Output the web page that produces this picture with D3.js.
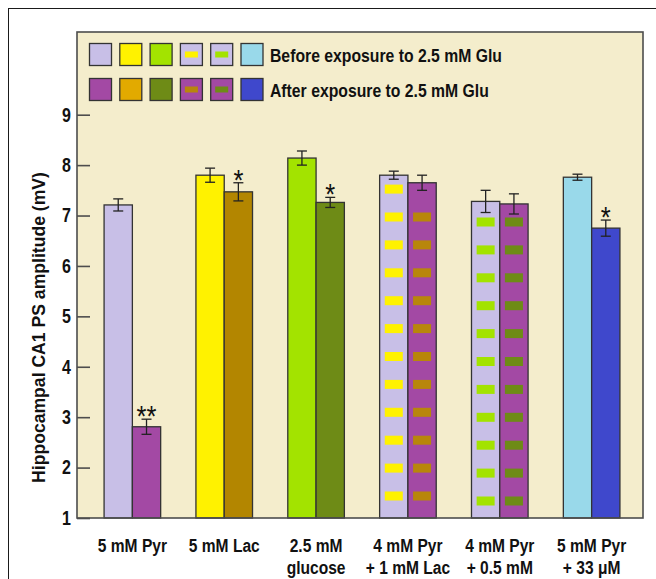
<!DOCTYPE html>
<html>
<head>
<meta charset="utf-8">
<script src="https://cdn.jsdelivr.net/npm/d3@7"></script>
<style>
  html, body { margin: 0; padding: 0; background: #ffffff; }
  svg { display: block; }
  text { font-family: "Liberation Sans", Arial, sans-serif; }
</style>
</head>
<body>
<svg id="chart" width="656" height="579"></svg>
<script>
// ---- data ----
const categories = [
  ["5 mM Pyr"],
  ["5 mM Lac"],
  ["2.5 mM", "glucose"],
  ["4 mM Pyr", "+ 1 mM Lac"],
  ["4 mM Pyr", "+ 0.5 mM"],
  ["5 mM Pyr", "+ 33 \u03BCM"]
];
const beforeValues = [7.21, 7.80, 8.14, 7.80, 7.28, 7.76];
const beforeErrors = [0.12, 0.14, 0.14, 0.08, 0.22, 0.06];
const afterValues  = [2.81, 7.47, 7.26, 7.65, 7.23, 6.75];
const afterErrors  = [0.15, 0.18, 0.10, 0.15, 0.20, 0.16];
const significance = ["**", "*", "*", "", "", "*"];
const yTicks = [1, 2, 3, 4, 5, 6, 7, 8, 9];

const beforeFill = ["#c8bfe7", "#fff200", "#a3e300", "#c8bfe7", "#c8bfe7", "#99d9ea"];
const afterFill  = ["#a349a4", "#b38600", "#6e8b16", "#a349a4", "#a349a4", "#3f48cc"];
const afterLegendFill = ["#a349a4", "#e2aa00", "#6e8b16", "#a349a4", "#a349a4", "#3f48cc"];
const beforeDash = [null, null, null, "#fff200", "#a3e300", null];
const afterDash  = [null, null, null, "#b8860b", "#6e8b16", null];
const legendLabels = ["Before exposure to 2.5 mM Glu", "After exposure to 2.5 mM Glu"];
const yTitle = "Hippocampal CA1 PS amplitude (mV)";

// ---- layout ----
const svg = d3.select("#chart");
const plot = { left: 77, right: 643, top: 32, bottom: 518 };

const x = d3.scaleBand()
  .domain(d3.range(categories.length))
  .range([plot.left, plot.right])
  .paddingInner(0.384)
  .paddingOuter(0.273)
  .align(0.54);
const xSub = d3.scaleBand().domain(["before", "after"]).range([0, x.bandwidth()]);
const y = d3.scaleLinear().domain([1, 9]).range([518, 114.7]);

// condensed horizontal text helper
function ctext(parent, tx, ty, str, size, sx, anchor, weight) {
  const g = parent.append("g").attr("transform", `translate(${tx},${ty}) scale(${sx},1)`);
  return g.append("text")
    .attr("text-anchor", anchor || "start")
    .attr("font-size", size)
    .attr("font-weight", weight || "bold")
    .attr("fill", "#111")
    .text(str);
}

// outer frame
svg.append("rect")
  .attr("x", 8.5).attr("y", 8.5).attr("width", 700).attr("height", 700)
  .attr("fill", "none").attr("stroke", "#1a1a1a").attr("stroke-width", 1);

// panel
svg.append("rect")
  .attr("x", plot.left).attr("y", plot.top)
  .attr("width", plot.right - plot.left).attr("height", plot.bottom - plot.top)
  .attr("fill", "#f4edcc");

// ---- bars ----
const rows = categories.map((c, i) => ({
  i,
  before: { v: beforeValues[i], e: beforeErrors[i], fill: beforeFill[i], dash: beforeDash[i] },
  after:  { v: afterValues[i],  e: afterErrors[i],  fill: afterFill[i],  dash: afterDash[i] },
  sig: significance[i]
}));

// dash rows for the striped bars: offset from the baseline per group
const dashOffset = { 3: 22, 4: 17 };
const dashStep = 27.9;

rows.forEach(r => {
  ["before", "after"].forEach(key => {
    const d = r[key];
    const bx = x(r.i) + xSub(key);
    const bw = xSub.bandwidth();
    const top = y(d.v);
    svg.append("rect")
      .attr("x", bx).attr("y", top)
      .attr("width", bw).attr("height", y(1) - top)
      .attr("fill", d.fill)
      .attr("stroke", "#333").attr("stroke-width", 1.3);
    if (d.dash) {
      const dw = 18, dh = 9;
      for (let cy = y(1) - dashOffset[r.i]; cy - dh / 2 >= top + 9; cy -= dashStep) {
        svg.append("rect")
          .attr("x", bx + (bw - dw) / 2).attr("y", cy - dh / 2)
          .attr("width", dw).attr("height", dh)
          .attr("fill", d.dash);
      }
    }
    // error bar
    const cx = bx + bw / 2;
    const y0 = y(d.v - d.e), y1 = y(d.v + d.e);
    const eb = svg.append("g").attr("stroke", "#222").attr("stroke-width", 1.3);
    eb.append("line").attr("x1", cx).attr("x2", cx).attr("y1", y0).attr("y2", y1);
    eb.append("line").attr("x1", cx - 5).attr("x2", cx + 5).attr("y1", y0).attr("y2", y0);
    eb.append("line").attr("x1", cx - 5).attr("x2", cx + 5).attr("y1", y1).attr("y2", y1);
    if (key === "after" && r.sig) {
      ctext(svg, cx, y1 + 7, r.sig, 30, 0.85, "middle", "normal");
    }
  });
});

// panel border
svg.append("rect")
  .attr("x", plot.left).attr("y", plot.top)
  .attr("width", plot.right - plot.left).attr("height", plot.bottom - plot.top)
  .attr("fill", "none").attr("stroke", "#4d4d4d").attr("stroke-width", 1.6);

// ---- y axis ----
const yAxis = d3.axisLeft(y).tickValues(yTicks).tickSizeInner(-13).tickSizeOuter(0).tickPadding(7.5);
const ag = svg.append("g").attr("transform", `translate(${plot.left},0)`).call(yAxis);
ag.select(".domain").remove();
ag.selectAll(".tick line").attr("stroke", "#4d4d4d").attr("stroke-width", 1.6);
ag.selectAll(".tick text")
  .attr("font-size", 20).attr("font-weight", "bold").attr("fill", "#111")
  .attr("font-family", "Liberation Sans, Arial, sans-serif")
  .attr("transform", "scale(0.8,1)");

svg.append("text")
  .attr("transform", `translate(45,${(172 + 483) / 2}) rotate(-90)`)
  .attr("text-anchor", "middle")
  .attr("font-size", 17.6).attr("font-weight", "bold").attr("fill", "#111")
  .text(yTitle);

// ---- category labels ----
categories.forEach((lines, i) => {
  const cx = x(i) + x.bandwidth() / 2;
  lines.forEach((ln, j) => {
    ctext(svg, cx, 552 + j * 22, ln, 19, 0.82, "middle");
  });
});

// ---- legend ----
const lg = svg.append("g");
const sq = 22, sqStep = 30.3, sqX = 89.5;
const rowY = [43.5, 78.5];
[beforeFill, afterLegendFill].forEach((fills, rIdx) => {
  const dashes = rIdx === 0 ? beforeDash : afterDash;
  fills.forEach((f, i) => {
    const lx = sqX + i * sqStep;
    lg.append("rect")
      .attr("x", lx).attr("y", rowY[rIdx]).attr("width", sq).attr("height", sq)
      .attr("fill", f).attr("stroke", "#333").attr("stroke-width", 1.3);
    if (dashes[i]) {
      lg.append("rect")
        .attr("x", lx + (sq - 13) / 2).attr("y", rowY[rIdx] + (sq - 6) / 2)
        .attr("width", 13).attr("height", 6)
        .attr("fill", dashes[i]);
    }
  });
  ctext(lg, 270, rowY[rIdx] + 18, legendLabels[rIdx], 19, 0.83, "start");
});
</script>
</body>
</html>
